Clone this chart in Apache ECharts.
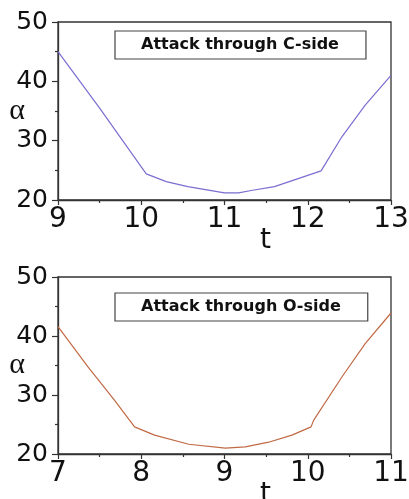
<!DOCTYPE html>
<html><head><meta charset="utf-8">
<script src="https://cdn.jsdelivr.net/npm/echarts@6/dist/echarts.min.js"></script>
<style>html,body{margin:0;padding:0;background:#fff;}#c{width:409px;height:499px;}</style>
</head><body><div id="c"></div>
<script>
// Top panel: attack through C-side
const topName = 'Attack through C-side';
const topT = [9, 9.5, 10.06, 10.3, 10.56, 11.0, 11.17, 11.32, 11.6, 11.84, 12.16, 12.41, 12.69, 13];
const topA = [45, 35.5, 24.4, 23.1, 22.25, 21.2, 21.2, 21.6, 22.25, 23.4, 24.9, 30.65, 36.0, 41.0];
// Bottom panel: attack through O-side
const botName = 'Attack through O-side';
const botT = [7, 7.36, 7.68, 7.92, 8.16, 8.57, 9.01, 9.25, 9.53, 9.81, 10.04, 10.07, 10.41, 10.69, 11];
const botA = [41.6, 34.75, 29.1, 24.6, 23.2, 21.65, 21.0, 21.2, 22.0, 23.2, 24.6, 25.7, 33.05, 38.7, 43.9];
// Axis ranges / ticks
const yMin = 20, yMax = 50, yStep = 10;
const topXMin = 9, topXMax = 13;
const botXMin = 7, botXMax = 11;
const xStep = 1;
const xName = 't', yName = 'α';

const chart = echarts.init(document.getElementById('c'), null, {renderer: 'canvas'});
const axisCol = '#333';
function xAxis(gi, mn, mx) {
  return {
    type: 'value', gridIndex: gi, min: mn, max: mx, interval: xStep,
    name: xName, nameLocation: 'middle', nameGap: 27, nameMoveOverlap: false,
    nameTextStyle: {fontFamily: 'DejaVu Sans', fontSize: 28, color: '#111', padding: [0, 0, 0, 82]},
    axisLine: {show: true, lineStyle: {color: axisCol, width: 1.3}},
    axisTick: {show: true, inside: false, length: 5, lineStyle: {color: axisCol, width: 1.2}},
    minorTick: {show: true, splitNumber: 2, length: 3, lineStyle: {color: axisCol, width: 1.2}},
    splitLine: {show: false},
    axisLabel: {fontFamily: 'DejaVu Sans', fontSize: 28, color: '#111', margin: 6}
  };
}
function yAxis(gi) {
  return {
    type: 'value', gridIndex: gi, min: yMin, max: yMax, interval: yStep,
    name: yName, nameLocation: 'middle', nameGap: 33, nameRotate: 0, nameMoveOverlap: false,
    nameTextStyle: {fontFamily: 'Liberation Serif', fontSize: 30, color: '#111'},
    axisLine: {show: true, lineStyle: {color: axisCol, width: 1.3}},
    axisTick: {show: true, inside: false, length: 6, lineStyle: {color: axisCol, width: 1.2}},
    minorTick: {show: true, splitNumber: 2, length: 3, lineStyle: {color: axisCol, width: 1.2}},
    splitLine: {show: false},
    axisLabel: {fontFamily: 'DejaVu Sans', fontSize: 25, color: '#111', margin: 10}
  };
}
function legend(name, top) {
  return {
    data: [name], left: 115, top: top, icon: 'none', itemWidth: 0, itemHeight: 14,
    padding: [6, 27, 6, 21], borderColor: '#444', borderWidth: 1.2, backgroundColor: '#fff',
    selectedMode: false,
    textStyle: {fontFamily: 'DejaVu Sans', fontWeight: 'bold', fontSize: 16, color: '#111', lineHeight: 15}
  };
}
chart.setOption({
  animation: false,
  backgroundColor: '#fff',
  grid: [
    {left: 58, top: 22, width: 333, height: 178, show: true, borderColor: axisCol, borderWidth: 1.3,
     backgroundColor: 'transparent', containLabel: false, outerBoundsMode: 'none'},
    {left: 58, top: 277, width: 333, height: 177, show: true, borderColor: axisCol, borderWidth: 1.3,
     backgroundColor: 'transparent', containLabel: false, outerBoundsMode: 'none'}
  ],
  legend: [legend(topName, 31), legend(botName, 293)],
  xAxis: [xAxis(0, topXMin, topXMax), xAxis(1, botXMin, botXMax)],
  yAxis: [yAxis(0), yAxis(1)],
  series: [
    {name: topName, type: 'line', xAxisIndex: 0, yAxisIndex: 0, showSymbol: false, smooth: false,
     lineStyle: {color: '#7a6ed0', width: 1.2}, itemStyle: {color: '#7a6ed0'},
     data: topT.map((t, i) => [t, topA[i]])},
    {name: botName, type: 'line', xAxisIndex: 1, yAxisIndex: 1, showSymbol: false, smooth: false,
     lineStyle: {color: '#c06a45', width: 1.2}, itemStyle: {color: '#c06a45'},
     data: botT.map((t, i) => [t, botA[i]])}
  ]
});
</script></body></html>
